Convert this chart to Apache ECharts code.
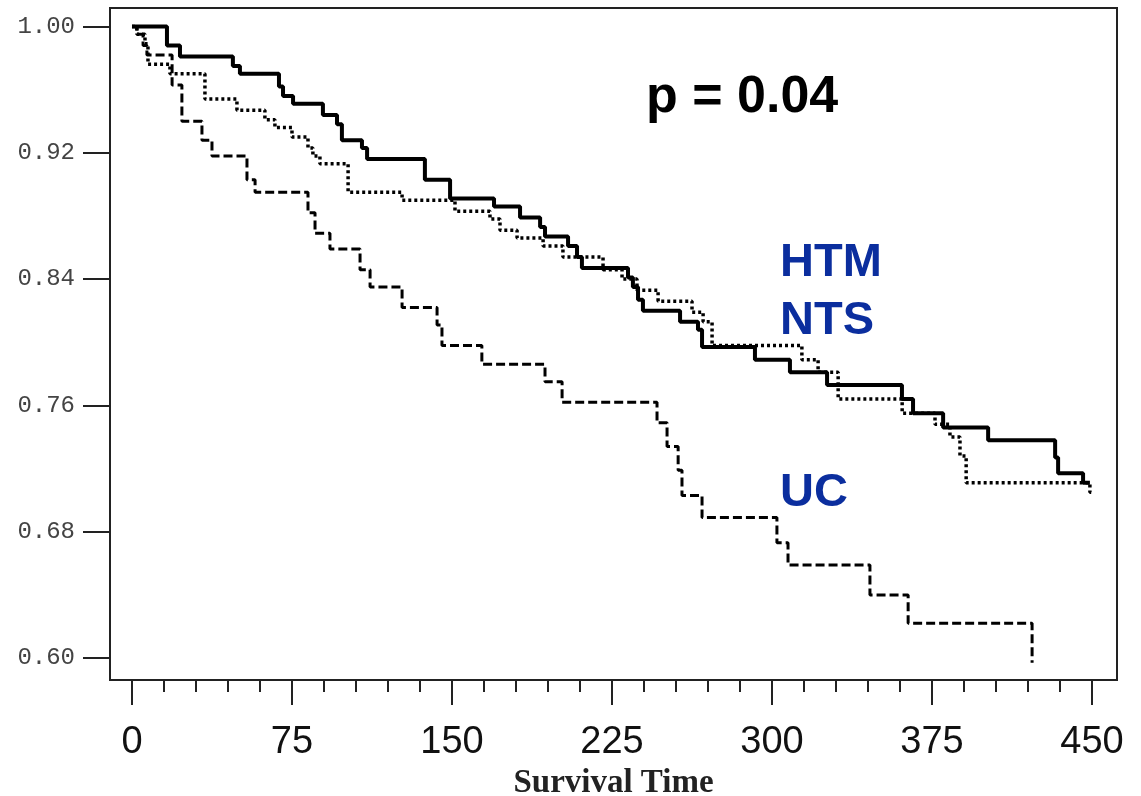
<!DOCTYPE html>
<html style="height: 100%">

<head>
  <meta charset="utf-8">
  <script type="text/javascript" src="https://cdn.jsdelivr.net/npm/echarts@6/dist/echarts.min.js"></script>
</head>

<body style="height: 100%; margin: 0; background: #fff">
  <div id="container" style="width: 1141px; height: 796px"></div>
  <script type="text/javascript">
    // axis ticks
    var xTicks = [0, 75, 150, 225, 300, 375, 450];
    var xMinorTicks = [15, 30, 45, 60, 90, 105, 120, 135, 165, 180, 195, 210, 240, 255, 270, 285, 315, 330, 345, 360, 390, 405, 420, 435];
    var yTicks = [0.60, 0.68, 0.76, 0.84, 0.92, 1.00];

    // [time, survival] at each step
    var htm = [[0, 1.0], [16.4, 0.988], [22.5, 0.981], [47.3, 0.975], [50.6, 0.970], [68.9, 0.962], [70.8, 0.956],
      [75.5, 0.951], [89.5, 0.944], [96.1, 0.938], [98.4, 0.928], [107.8, 0.923], [110.2, 0.916], [137.3, 0.903],
      [149.1, 0.891], [169.7, 0.886], [181.9, 0.879], [191.3, 0.873], [193.6, 0.867], [204.4, 0.861], [208.6, 0.854],
      [210.9, 0.847], [232.5, 0.841], [234.8, 0.835], [237.2, 0.827], [239.5, 0.820], [256.9, 0.813], [265.3, 0.808],
      [267.2, 0.797], [292, 0.789], [308.4, 0.781], [325.8, 0.773], [360.9, 0.764], [366.1, 0.755], [380.2, 0.746],
      [401.3, 0.738], [432.7, 0.727], [434.1, 0.717], [445.8, 0.711], [449, 0.711]];

    var nts = [[0, 1.0], [2.3, 0.995], [6.1, 0.989], [7.5, 0.976], [17.8, 0.970], [34.2, 0.954], [49.2, 0.947],
      [62.3, 0.941], [67, 0.936], [75, 0.930], [82.5, 0.923], [84.8, 0.918], [88.1, 0.913], [101.3, 0.895],
      [126.6, 0.890], [151.4, 0.883], [167.8, 0.878], [172.5, 0.871], [180.5, 0.866], [192.7, 0.861], [202, 0.854],
      [220.8, 0.846], [229.7, 0.840], [236.7, 0.833], [246.6, 0.826], [262.5, 0.819], [267.7, 0.813], [271.9, 0.798],
      [314, 0.789], [321.6, 0.781], [331, 0.764], [361, 0.755], [376.4, 0.748], [383.4, 0.740], [388.1, 0.728],
      [391, 0.711], [449, 0.705], [451, 0.705]];

    var uc = [[0, 1.0], [2.3, 0.995], [5.2, 0.988], [7, 0.982], [18.8, 0.963], [23.4, 0.940], [32.8, 0.928],
      [37.5, 0.918], [53.9, 0.903], [57.7, 0.895], [82.5, 0.882], [85.8, 0.869], [92.8, 0.859], [106.9, 0.846],
      [111.6, 0.835], [126.6, 0.822], [143, 0.811], [145.3, 0.798], [164, 0.786], [193.6, 0.775], [201.6, 0.762],
      [246.1, 0.749], [250.8, 0.734], [256, 0.719], [257.8, 0.703], [267.2, 0.689], [302.3, 0.673], [307.5, 0.659],
      [345.9, 0.640], [363.8, 0.622], [421.9, 0.597]];

    var dom = document.getElementById("container");
    var myChart = echarts.init(dom);

    var option = {
      animation: false,
      grid: {
        left: 110,
        right: 24,
        top: 8,
        bottom: 116,
        containLabel: false,
        outerBoundsMode: 'none',
        show: true,
        borderColor: '#222',
        borderWidth: 2
      },
      xAxis: [{
        type: 'value',
        min: -10.3,
        max: 461.7,
        name: 'Survival Time',
        nameLocation: 'middle',
        nameGap: 82,
        nameTextStyle: {
          fontFamily: 'Liberation Serif',
          fontSize: 33,
          fontWeight: 'bold',
          color: '#222'
        },
        splitLine: { show: false },
        axisLine: { onZero: false, lineStyle: { color: '#222', width: 2 } },
        axisTick: {
          customValues: xTicks,
          length: 25,
          lineStyle: { color: '#222', width: 2 }
        },
        axisLabel: {
          customValues: xTicks,
          margin: 44,
          fontFamily: 'Liberation Sans',
          fontSize: 38,
          color: '#111'
        }
      }, {
        // minor ticks only
        type: 'value',
        position: 'bottom',
        min: -10.3,
        max: 461.7,
        splitLine: { show: false },
        axisLine: { show: false, onZero: false },
        axisLabel: { show: false },
        axisTick: {
          customValues: xMinorTicks,
          length: 12,
          lineStyle: { color: '#222', width: 2 }
        }
      }],
      yAxis: {
        type: 'value',
        min: 0.5861,
        max: 1.0117,
        splitLine: { show: false },
        axisLine: { show: true, onZero: false, lineStyle: { color: '#222', width: 2 } },
        axisTick: {
          show: true,
          customValues: yTicks,
          length: 27,
          lineStyle: { color: '#222', width: 2 }
        },
        axisLabel: {
          customValues: yTicks,
          margin: 35,
          fontFamily: 'Liberation Mono',
          fontSize: 24,
          color: '#444',
          formatter: function(v) {
            return v.toFixed(2);
          }
        }
      },
      graphic: [
        { type: 'text', left: 646, top: 72, style: { text: 'p = 0.04', fontFamily: 'Liberation Sans', fontWeight: 'bold', fontSize: 52, fill: '#000' } },
        { type: 'text', left: 780, top: 240, style: { text: 'HTM', fontFamily: 'Liberation Sans', fontWeight: 'bold', fontSize: 47, fill: '#0b2e9e' } },
        { type: 'text', left: 780, top: 298, style: { text: 'NTS', fontFamily: 'Liberation Sans', fontWeight: 'bold', fontSize: 47, fill: '#0b2e9e' } },
        { type: 'text', left: 780, top: 470, style: { text: 'UC', fontFamily: 'Liberation Sans', fontWeight: 'bold', fontSize: 47, fill: '#0b2e9e' } }
      ],
      series: [{
        name: 'HTM',
        type: 'line',
        step: 'end',
        data: htm,
        symbol: 'none',
        lineStyle: { color: '#000', width: 4, type: 'solid' }
      }, {
        name: 'NTS',
        type: 'line',
        step: 'end',
        data: nts,
        symbol: 'none',
        lineStyle: { color: '#000', width: 3.5, type: [3, 3] }
      }, {
        name: 'UC',
        type: 'line',
        step: 'end',
        data: uc,
        symbol: 'none',
        lineStyle: { color: '#000', width: 3, type: [9, 4] }
      }]
    };
    myChart.setOption(option);
  </script>
</body>

</html>
